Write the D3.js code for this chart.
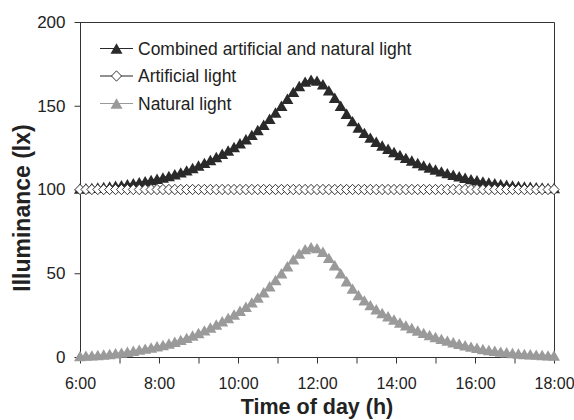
<!DOCTYPE html>
<html>
<head>
<meta charset="utf-8">
<script src="https://cdn.jsdelivr.net/npm/d3@7"></script>
<style>
  html, body { margin: 0; padding: 0; background: #ffffff; }
  svg { display: block; }
  text { font-family: "Liberation Sans", Arial, sans-serif; fill: #222; }
</style>
</head>
<body>
<svg id="chart" width="574" height="420"></svg>
<script>
// ---- data (time of day in hours, 9-minute steps) ----
const times = [
  6.00, 6.15, 6.30, 6.45, 6.60, 6.75, 6.90, 7.05, 7.20, 7.35,
  7.50, 7.65, 7.80, 7.95, 8.10, 8.25, 8.40, 8.55, 8.70, 8.85,
  9.00, 9.15, 9.30, 9.45, 9.60, 9.75, 9.90, 10.05, 10.20, 10.35,
  10.50, 10.65, 10.80, 10.95, 11.10, 11.25, 11.40, 11.55, 11.70, 11.85,
  12.00, 12.15, 12.30, 12.45, 12.60, 12.75, 12.90, 13.05, 13.20, 13.35,
  13.50, 13.65, 13.80, 13.95, 14.10, 14.25, 14.40, 14.55, 14.70, 14.85,
  15.00, 15.15, 15.30, 15.45, 15.60, 15.75, 15.90, 16.05, 16.20, 16.35,
  16.50, 16.65, 16.80, 16.95, 17.10, 17.25, 17.40, 17.55, 17.70, 17.85,
  18.00
];
const naturalLight = [
  0.6, 0.8, 1.0, 1.2, 1.5, 1.8, 2.2, 2.6, 3.1, 3.7,
  4.4, 5.0, 5.7, 6.4, 7.2, 8.1, 9.1, 10.2, 11.4, 12.8,
  14.3, 15.9, 17.6, 19.4, 21.3, 23.3, 25.4, 27.6, 30.0, 32.6,
  35.5, 38.7, 42.2, 46.0, 50.0, 54.2, 58.3, 61.8, 64.4, 65.6,
  65.0, 62.8, 59.2, 54.8, 50.0, 45.2, 40.8, 37.0, 33.8, 31.0,
  28.5, 26.3, 24.3, 22.4, 20.6, 18.9, 17.3, 15.8, 14.4, 13.1,
  11.9, 10.8, 9.8, 8.8, 7.9, 7.0, 6.2, 5.5, 4.8, 4.2,
  3.7, 3.2, 2.8, 2.4, 2.1, 1.8, 1.6, 1.4, 1.2, 1.0,
  0.9
];
const artificialLight = [
  100, 100, 100, 100, 100, 100, 100, 100, 100, 100,
  100, 100, 100, 100, 100, 100, 100, 100, 100, 100,
  100, 100, 100, 100, 100, 100, 100, 100, 100, 100,
  100, 100, 100, 100, 100, 100, 100, 100, 100, 100,
  100, 100, 100, 100, 100, 100, 100, 100, 100, 100,
  100, 100, 100, 100, 100, 100, 100, 100, 100, 100,
  100, 100, 100, 100, 100, 100, 100, 100, 100, 100,
  100, 100, 100, 100, 100, 100, 100, 100, 100, 100,
  100
];
const combinedLight = [
  100.6, 100.8, 101.0, 101.2, 101.5, 101.8, 102.2, 102.6, 103.1, 103.7,
  104.4, 105.0, 105.7, 106.4, 107.2, 108.1, 109.1, 110.2, 111.4, 112.8,
  114.3, 115.9, 117.6, 119.4, 121.3, 123.3, 125.4, 127.6, 130.0, 132.6,
  135.5, 138.7, 142.2, 146.0, 150.0, 154.2, 158.3, 161.8, 164.4, 165.6,
  165.0, 162.8, 159.2, 154.8, 150.0, 145.2, 140.8, 137.0, 133.8, 131.0,
  128.5, 126.3, 124.3, 122.4, 120.6, 118.9, 117.3, 115.8, 114.4, 113.1,
  111.9, 110.8, 109.8, 108.8, 107.9, 107.0, 106.2, 105.5, 104.8, 104.2,
  103.7, 103.2, 102.8, 102.4, 102.1, 101.8, 101.6, 101.4, 101.2, 101.0,
  100.9
];
const xTickLabels = ["6:00", "8:00", "10:00", "12:00", "14:00", "16:00", "18:00"];
const xLabelHours = [6, 8, 10, 12, 14, 16, 18];
const xMinorHours = [6, 7, 8, 9, 10, 11, 12, 13, 14, 15, 16, 17, 18];
const yTicks = [0, 50, 100, 150, 200];
const seriesNames = ["Combined artificial and natural light", "Artificial light", "Natural light"];

// ---- layout ----
const svg = d3.select("#chart");
const L = 80, R = 554, T = 22, B = 357;
const x = d3.scaleLinear().domain([6, 18]).range([L, R]);
const y = d3.scaleLinear().domain([0, 200]).range([B, T]);
const axisColor = "#333";
const FONT = "Liberation Sans, Arial, sans-serif";

// marker shapes
const triShape = {
  draw(ctx, size) {
    const w = 6, h = 5.2;
    ctx.moveTo(0, -h); ctx.lineTo(w, h); ctx.lineTo(-w, h); ctx.closePath();
  }
};
const diaShape = {
  draw(ctx, size) {
    const w = 5, h = 5.2;
    ctx.moveTo(0, -h); ctx.lineTo(w, 0); ctx.lineTo(0, h); ctx.lineTo(-w, 0); ctx.closePath();
  }
};

// plot border (top & right)
svg.append("path")
  .attr("d", `M${L},${T + 0.5}H${R + 0.5}V${B}`)
  .attr("fill", "none").attr("stroke", axisColor).attr("stroke-width", 1);

// y axis
const yAxis = d3.axisLeft(y).tickValues(yTicks).tickSize(6).tickPadding(9).tickFormat(d3.format("d"));
const gy = svg.append("g").attr("transform", `translate(${L + 0.5},0)`).call(yAxis);
gy.select(".domain").attr("stroke", axisColor).attr("d", `M0,${T}V${B}`);
gy.selectAll(".tick line").attr("stroke", axisColor);
gy.selectAll(".tick text").attr("font-size", 17).attr("font-family", FONT).attr("fill", "#222");

// x axis minor (hourly ticks)
const xMinor = d3.axisBottom(x).tickValues(xMinorHours).tickSize(6).tickFormat("");
const gxm = svg.append("g").attr("transform", `translate(0,${B + 0.5})`).call(xMinor);
gxm.select(".domain").attr("stroke", axisColor).attr("d", `M${L},0H${R + 0.5}`);
gxm.selectAll(".tick line").attr("stroke", axisColor);

// x axis labels
const xAxis = d3.axisBottom(x).tickValues(xLabelHours).tickSize(0).tickPadding(21)
  .tickFormat((d, i) => xTickLabels[i]);
const gx = svg.append("g").attr("transform", `translate(0,${B})`).call(xAxis);
gx.select(".domain").remove();
gx.selectAll(".tick text").attr("font-size", 16).attr("font-family", FONT).attr("fill", "#222");

// axis titles
svg.append("text")
  .attr("x", (L + R) / 2).attr("y", 414)
  .attr("text-anchor", "middle").attr("font-size", 21.5).attr("font-weight", "bold")
  .text("Time of day (h)");
svg.append("text")
  .attr("transform", `translate(30,${208}) rotate(-90)`)
  .attr("text-anchor", "middle").attr("font-size", 23).attr("font-weight", "bold")
  .text("Illuminance (lx)");

// series
const series = [
  { name: seriesNames[2], values: naturalLight, color: "#9a9a9a", fill: "#9a9a9a", shape: triShape },
  { name: seriesNames[0], values: combinedLight, color: "#2a2a2a", fill: "#2a2a2a", shape: triShape },
  { name: seriesNames[1], values: artificialLight, color: "#222", fill: "#ffffff", shape: diaShape }
];
const line = d3.line().x((d, i) => x(times[i])).y(d => y(d));
series.forEach(s => {
  svg.append("path").datum(s.values)
    .attr("d", line).attr("fill", "none").attr("stroke", s.color).attr("stroke-width", 1);
  svg.append("g").selectAll("path").data(s.values).join("path")
    .attr("transform", (d, i) => `translate(${x(times[i])},${y(d)})`)
    .attr("d", d3.symbol().type(s.shape))
    .attr("fill", s.fill)
    .attr("stroke", s.fill === "#ffffff" ? "#222" : "none")
    .attr("stroke-width", 0.9);
});

// legend
const legend = [
  { name: seriesNames[0], color: "#2a2a2a", fill: "#2a2a2a", shape: triShape },
  { name: seriesNames[1], color: "#222", fill: "#ffffff", shape: diaShape },
  { name: seriesNames[2], color: "#9a9a9a", fill: "#9a9a9a", shape: triShape }
];
const lg = svg.append("g");
legend.forEach((s, i) => {
  const cy = 48.5 + i * 27.5;
  lg.append("line").attr("x1", 100).attr("x2", 133).attr("y1", cy).attr("y2", cy)
    .attr("stroke", s.color).attr("stroke-width", 1);
  lg.append("path").attr("transform", `translate(116.5,${cy})`)
    .attr("d", d3.symbol().type(s.shape))
    .attr("fill", s.fill).attr("stroke", s.fill === "#ffffff" ? "#222" : "none").attr("stroke-width", 0.9);
  lg.append("text").attr("x", 138).attr("y", cy + 6).attr("font-size", 17.5).text(s.name);
});
</script>
</body>
</html>
